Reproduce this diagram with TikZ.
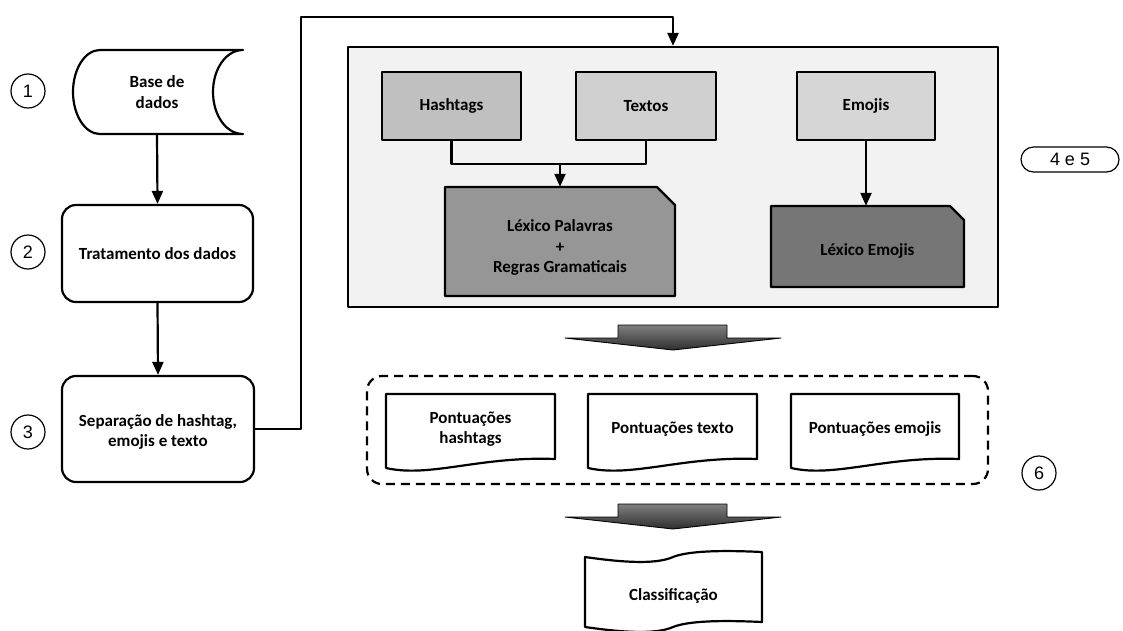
\documentclass[tikz,border=0pt]{standalone}
\usepackage{fontspec}
\setmainfont{Carlito}
\newfontfamily\arialf{Liberation Sans}
\usetikzlibrary{arrows.meta,calc}
\definecolor{bgbox}{HTML}{F2F2F2}
\definecolor{hashc}{HTML}{C0C0C0}
\definecolor{textc}{HTML}{D0D0D0}
\definecolor{emoc}{HTML}{D6D6D6}
\definecolor{lexpc}{HTML}{969696}
\definecolor{lexec}{HTML}{767676}
\begin{document}
\begin{tikzpicture}[x=1pt,y=-1pt,line join=round,
  lw/.style={line width=2.2pt},
  txt/.style={font=\bfseries\fontsize{17}{20.5}\selectfont,align=center,inner sep=0pt},
  rbox/.style={txt,draw,lw,rounded corners=14pt,fill=white},
  gbox/.style={txt,draw,lw},
  ghost/.style={txt},
  numc/.style={draw,line width=1.2pt,circle,minimum size=34pt,inner sep=0pt,font=\arialf\fontsize{18}{18}\selectfont},
  conn/.style={lw,-{Triangle[length=13pt,width=11pt]}},
  fat/.style={draw=black,line width=0.9pt,top color=black!50,bottom color=black!82},
  shp/.style={draw,lw}]
\useasboundingbox (0,0) rectangle (1123,630);
\clip (0,0) rectangle (1123,630);
% numbers
\node[numc] (n1) at (28,91) {1};
\node[numc] (n2) at (28,252) {2};
\node[numc] (n3) at (28,432) {3};
\node[numc] (n6) at (1039,473) {6};
\node[draw,line width=1.2pt,rounded corners=12.5pt,minimum width=98pt,minimum height=25pt,inner sep=0pt,font=\arialf\fontsize{18}{18}\selectfont] (n45) at (1070,159.5) {4 e 5};
% base de dados
\draw[shp,fill=white] (100,50) -- (243,50) .. controls (226,50) and (213,69) .. (213,92) .. controls (213,115) and (226,134) .. (243,134) -- (100,134) .. controls (85,134) and (73,115) .. (73,92) .. controls (73,69) and (85,50) .. (100,50) -- cycle;
\node[ghost,minimum width=100pt,minimum height=84pt] (db) at (157,92) {Base de\\dados};
% boxes
\node[rbox,minimum width=191pt,minimum height=97pt] (trat) at (157.5,253.5) {Tratamento dos dados};
\node[rbox,minimum width=192pt,minimum height=106pt] (sep) at (158,429) {};
\node[txt] (sept) at (158,432) {Separação de hashtag,\\emojis e texto};
\draw[conn] (db.south) -- (trat.north);
\draw[conn] (trat.south) -- (sep.north);
% big box
\node[draw,lw,fill=bgbox,minimum width=650pt,minimum height=260pt,inner sep=0pt] (big) at (673,177) {};
\coordinate (c1) at (301,17);
\coordinate (c2) at (673,17);
\draw[conn] (sep.east) -| (c1) -- (c2) -- (c2 |- big.north);
\node[gbox,fill=hashc,minimum width=139pt,minimum height=68pt] (hash) at (451.5,106) {Hashtags};
\node[gbox,fill=textc,minimum width=140pt,minimum height=68pt] (text) at (646,106) {Textos};
\node[gbox,fill=emoc,minimum width=138pt,minimum height=68pt] (emo) at (866,106) {Emojis};
% lexico palavras
\draw[shp,fill=lexpc] (445,187) -- (657,187) -- (675,205) -- (675,296) -- (445,296) -- cycle;
\node[ghost,minimum width=230pt,minimum height=109pt] (lexp) at (560,241.5) {};
\node[txt] (lexpt) at (560,247.5) {Léxico Palavras\\+\\Regras Gramaticais};
\draw[shp,fill=lexec] (771,206) -- (950,206) -- (964,220) -- (964,287) -- (771,287) -- cycle;
\node[ghost,minimum width=193pt,minimum height=81pt] (lexe) at (867.5,246.5) {};
\node[txt] (lexet) at (867.5,251) {Léxico Emojis};
\coordinate (m) at (560,164);
\draw[lw] (hash.south) |- (m);
\draw[lw] (text.south) |- (m);
\draw[conn] (m) -- (lexp.north);
\draw[conn] (emo.south) -- (emo.south |- lexe.north);
% fat arrows
\draw[fat] (618,325) -- (727,325) -- (727,338) -- (781,338) -- (673,350) -- (565,338) -- (618,338) -- cycle;
\draw[fat] (618,504) -- (727,504) -- (727,517) -- (781,517) -- (673,529) -- (565,517) -- (618,517) -- cycle;
% dashed group
\node[draw,lw,dash pattern=on 9pt off 6pt,rounded corners=15pt,minimum width=621pt,minimum height=108pt,inner sep=0pt] (grp) at (677.5,430) {};
% documents
\foreach \xa/\xb in {386/555,588/757,791/959}{
  \draw[shp,fill=white] (\xa,394) -- (\xb,394) -- (\xb,459)
    .. controls ({\xb-75},456) and ({\xa+44},478) .. (\xa,468) -- cycle;
}
\node[ghost,minimum width=169pt,minimum height=70pt] (ph) at (470.5,429) {Pontuações\\hashtags};
\node[ghost,minimum width=169pt,minimum height=70pt] (pt) at (672.5,429) {Pontuações texto};
\node[ghost,minimum width=168pt,minimum height=70pt] (pe) at (875,429) {Pontuações emojis};
% classificacao
\draw[shp,fill=white] (585,557) .. controls (620,562) and (655,565) .. (673,557) .. controls (688,551) and (720,550) .. (762,552) -- (762,622) .. controls (720,620) and (688,621) .. (673,627) .. controls (655,635) and (620,632) .. (585,627) -- cycle;
\node[ghost,minimum width=177pt,minimum height=60pt] (cls) at (673.5,596) {Classificação};
\end{tikzpicture}
\end{document}
